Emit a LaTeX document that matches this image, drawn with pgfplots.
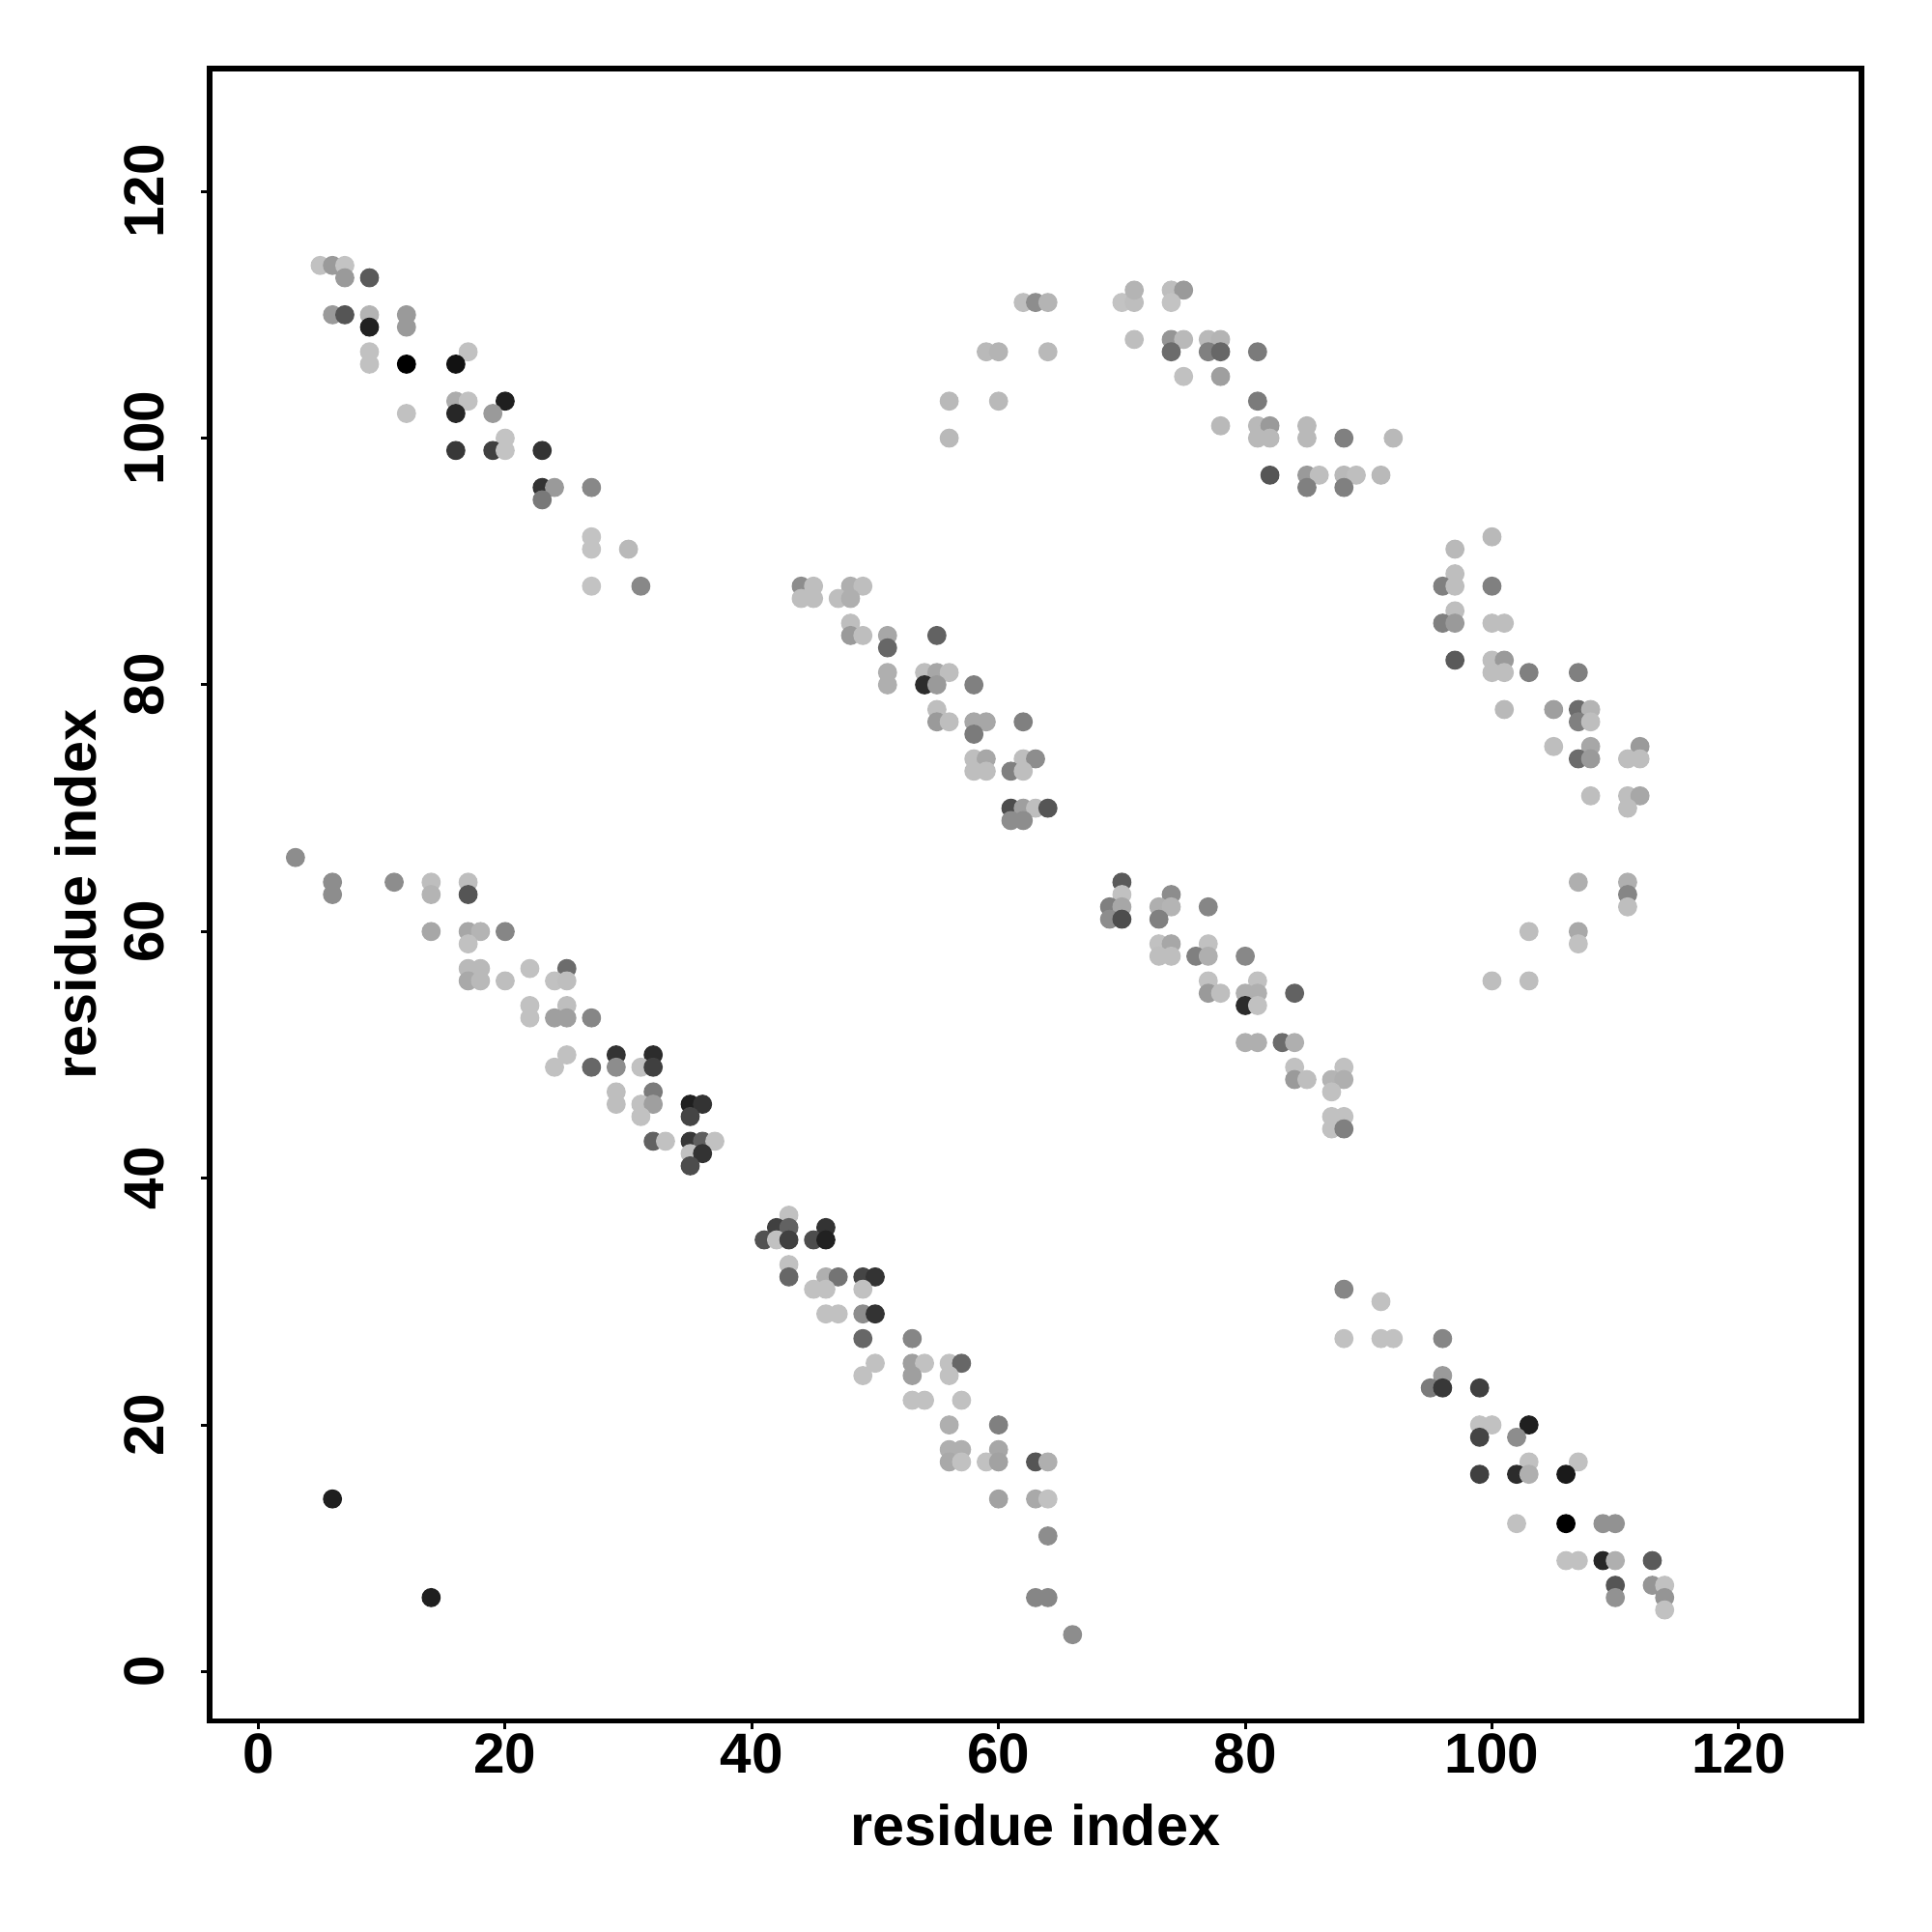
\documentclass[border=0pt]{standalone}
\usepackage{fontspec}
\setmainfont{Liberation Sans}
\usepackage{pgfplots}
\usepackage{pgfplotstable}
\pgfplotsset{compat=1.18}

% contact map: residue i, residue j, grey level (0 = black, 1 = white)
\pgfplotstableread{
x y g
5 114 0.75
6 114 0.60
7 114 0.76
7 113 0.60
9 113 0.35
6 110 0.60
7 110 0.33
9 110 0.70
12 110 0.60
9 109 0.13
12 109 0.60
9 107 0.75
17 107 0.75
9 106 0.75
12 106 0.00
16 106 0.07
16 103 0.67
17 103 0.75
20 103 0.12
12 102 0.75
16 102 0.15
19 102 0.60
20 100 0.76
16 99 0.22
19 99 0.25
20 99 0.76
23 99 0.20
23 96 0.20
24 96 0.60
27 96 0.53
23 95 0.47
27 92 0.76
27 91 0.76
30 91 0.72
27 88 0.76
31 88 0.53
56 103 0.72
56 100 0.72
59 107 0.72
60 107 0.70
60 103 0.72
64 107 0.72
62 111 0.74
63 111 0.55
64 111 0.70
70 111 0.76
71 111 0.74
71 112 0.70
74 112 0.74
75 112 0.60
74 111 0.76
71 108 0.74
74 108 0.58
75 108 0.72
77 108 0.72
78 108 0.70
74 107 0.42
77 107 0.50
78 107 0.40
81 107 0.48
75 105 0.75
78 105 0.62
81 103 0.48
78 101 0.72
81 101 0.72
82 101 0.60
85 101 0.72
81 100 0.72
82 100 0.72
85 100 0.72
88 100 0.50
92 100 0.72
82 97 0.33
85 97 0.60
86 97 0.74
88 97 0.72
89 97 0.74
91 97 0.72
85 96 0.50
88 96 0.50
100 92 0.72
97 91 0.72
97 89 0.74
96 88 0.50
97 88 0.74
100 88 0.50
97 86 0.74
96 85 0.50
97 85 0.60
100 85 0.74
101 85 0.74
97 82 0.35
100 82 0.74
101 82 0.60
100 81 0.74
101 81 0.74
103 81 0.50
107 81 0.50
101 78 0.72
105 78 0.62
107 78 0.42
108 78 0.70
107 77 0.50
108 77 0.74
105 75 0.74
108 75 0.65
112 75 0.60
107 74 0.42
108 74 0.60
111 74 0.74
112 74 0.74
108 71 0.74
111 71 0.74
112 71 0.65
111 70 0.74
3 66 0.55
6 64 0.55
11 64 0.55
14 64 0.74
17 64 0.74
6 63 0.55
14 63 0.70
17 63 0.33
14 60 0.65
17 60 0.65
18 60 0.70
20 60 0.52
17 59 0.75
17 57 0.72
18 57 0.72
22 57 0.75
25 57 0.42
17 56 0.66
18 56 0.72
20 56 0.74
24 56 0.75
25 56 0.74
22 54 0.75
25 54 0.74
22 53 0.75
24 53 0.62
25 53 0.62
27 53 0.52
25 50 0.75
29 50 0.20
32 50 0.17
24 49 0.75
27 49 0.40
29 49 0.55
31 49 0.75
32 49 0.25
29 47 0.74
32 47 0.48
29 46 0.74
31 46 0.75
32 46 0.62
31 45 0.75
35 46 0.12
36 46 0.20
35 45 0.27
32 43 0.38
33 43 0.75
35 43 0.22
36 43 0.37
37 43 0.75
35 42 0.75
36 42 0.20
35 41 0.30
44 88 0.55
45 88 0.74
48 88 0.68
49 88 0.74
44 87 0.74
45 87 0.74
47 87 0.74
48 87 0.68
48 85 0.74
48 84 0.60
49 84 0.74
51 84 0.65
55 84 0.38
51 83 0.40
51 81 0.68
54 81 0.74
55 81 0.65
56 81 0.74
51 80 0.68
54 80 0.17
55 80 0.60
58 80 0.50
55 78 0.74
55 77 0.60
56 77 0.74
58 77 0.65
59 77 0.65
62 77 0.50
58 76 0.48
58 74 0.74
59 74 0.65
62 74 0.74
63 74 0.55
58 73 0.74
59 73 0.74
61 73 0.50
62 73 0.74
61 70 0.30
62 70 0.62
63 70 0.74
64 70 0.33
61 69 0.55
62 69 0.55
70 64 0.35
70 63 0.75
74 63 0.55
69 62 0.50
70 62 0.65
73 62 0.68
74 62 0.70
77 62 0.52
69 61 0.55
70 61 0.30
73 61 0.50
73 59 0.75
74 59 0.65
77 59 0.75
73 58 0.74
74 58 0.74
76 58 0.50
77 58 0.68
80 58 0.53
77 56 0.75
81 56 0.75
77 55 0.60
78 55 0.74
80 55 0.68
81 55 0.68
84 55 0.38
80 54 0.17
81 54 0.75
80 51 0.68
81 51 0.68
83 51 0.42
84 51 0.68
84 49 0.75
88 49 0.75
84 48 0.60
85 48 0.74
87 48 0.70
88 48 0.68
87 47 0.75
87 45 0.75
88 45 0.75
87 44 0.75
88 44 0.50
100 56 0.74
103 56 0.74
103 60 0.74
107 60 0.66
107 59 0.75
107 64 0.68
111 64 0.68
111 63 0.52
111 62 0.74
43 37 0.75
42 36 0.25
43 36 0.38
46 36 0.20
41 35 0.32
42 35 0.75
43 35 0.25
45 35 0.30
46 35 0.13
43 33 0.75
43 32 0.40
46 32 0.68
47 32 0.45
49 32 0.27
50 32 0.20
45 31 0.75
46 31 0.75
49 31 0.75
46 29 0.75
47 29 0.75
49 29 0.55
50 29 0.20
49 27 0.40
53 27 0.52
50 25 0.75
53 25 0.62
54 25 0.75
56 25 0.75
57 25 0.40
49 24 0.75
53 24 0.62
56 24 0.75
53 22 0.75
54 22 0.75
57 22 0.75
56 20 0.68
60 20 0.50
56 18 0.68
57 18 0.68
60 18 0.65
56 17 0.66
57 17 0.75
59 17 0.75
60 17 0.63
63 17 0.33
64 17 0.68
60 14 0.63
63 14 0.66
64 14 0.75
64 11 0.55
63 6 0.52
64 6 0.52
66 3 0.55
88 31 0.52
91 30 0.75
88 27 0.75
91 27 0.75
92 27 0.75
96 27 0.52
96 24 0.60
95 23 0.48
96 23 0.22
99 23 0.25
99 20 0.75
100 20 0.75
103 20 0.12
99 19 0.27
102 19 0.55
103 17 0.75
107 17 0.75
99 16 0.25
102 16 0.17
103 16 0.68
106 16 0.10
102 12 0.75
106 12 0.00
109 12 0.57
110 12 0.57
106 9 0.75
107 9 0.75
109 9 0.15
110 9 0.68
113 9 0.35
110 7 0.33
113 7 0.58
114 7 0.75
110 6 0.57
114 6 0.58
114 5 0.75
6 14 0.12
14 6 0.12
}\contacts

\begin{document}
\begin{tikzpicture}
\path[use as bounding box] (-1.736,-1.744) rectangle (14.264,14.248);
\begin{axis}[
    at={(0,0)}, anchor=south west,
    width=13.68cm, height=13.68cm, scale only axis,
    xmin=-3.96, xmax=129.96,
    ymin=-3.96, ymax=129.96,
    xtick={0,20,...,120},
    ytick={0,20,...,120},
    xtick pos=left, ytick pos=left,
    tick align=outside,
    major tick length=0.07cm,
    tick style={line width=0.7pt, black},
    axis line style={line width=1.15pt},
    /pgf/number format/assume math mode=true,
    ticklabel style={font=\bfseries\fontsize{13.3}{15}\selectfont, inner sep=0pt},
    xticklabel style={anchor=north},
    yticklabel style={rotate=90, anchor=south},
    xticklabel shift=0.035cm,
    yticklabel shift=0.3cm,
    label style={font=\bfseries\fontsize{13.5}{16}\selectfont},
    xlabel={residue index},
    ylabel={residue index},
    xlabel style={at={(axis description cs:0.5,-0.0632)}, anchor=center},
    ylabel style={at={(axis description cs:-0.0810,0.5)}, anchor=center},
    colormap={bw}{gray(0cm)=(0); gray(1cm)=(1)},
    point meta min=0, point meta max=1,
]
\addplot[scatter, only marks, mark=*, mark size=2.1pt,
    mark options={line width=0.3pt},
    scatter src=explicit,
    scatter/use mapped color={draw=mapped color, fill=mapped color}]
    table[x=x, y=y, meta=g] {\contacts};
\end{axis}
\end{tikzpicture}
\end{document}
